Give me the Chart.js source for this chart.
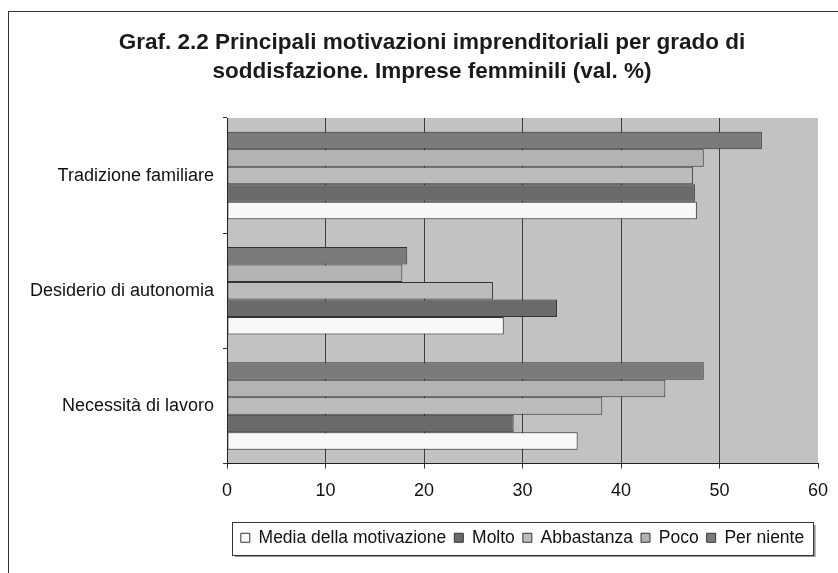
<!DOCTYPE html>
<html>
<head>
<meta charset="utf-8">
<script src="https://cdn.jsdelivr.net/npm/chart.js@4/dist/chart.umd.min.js"></script>
<style>
  html, body { margin: 0; padding: 0; background: #fff; overflow: hidden; }
  #frame { position: absolute; left: 8px; top: 11px; width: 900px; height: 600px;
           border-left: 1px solid #333; border-top: 1px solid #333; }
  #chart { position: absolute; left: 0; top: 0; }
</style>
</head>
<body>
<div id="frame"></div>
<canvas id="chart" width="864" height="573"></canvas>
<script>
// Data
const categories = ['Tradizione familiare', 'Desiderio di autonomia', 'Necessità di lavoro'];
const perNiente  = [54.3, 18.3, 48.4];
const poco       = [48.4, 17.8, 44.5];
const abbastanza = [47.3, 27.0, 38.1];
const molto      = [47.5, 33.5, 29.1];
const media      = [47.7, 28.1, 35.6];
const xTicks = [0, 10, 20, 30, 40, 50, 60];

Chart.defaults.font.family = '"Liberation Sans", Arial, sans-serif';
Chart.defaults.color = '#111';

// grey plot background
const plotBg = {
    id: 'plotBg',
    beforeDraw(chart) {
        const a = chart.chartArea, ctx = chart.ctx;
        ctx.save();
        ctx.fillStyle = '#c2c2c2';
        ctx.fillRect(a.left, a.top, a.right - a.left, a.bottom - a.top);
        ctx.restore();
    }
};

// the title in the original sits a little right of the plot's centre
const titleShift = {
    id: 'titleShift',
    afterLayout(chart) {
        if (chart.titleBlock) chart.titleBlock.left = 46;
    }
};

// box with shadow round the legend
const legendBox = {
    id: 'legendBox',
    afterDraw(chart) {
        const hb = chart.legend.legendHitBoxes;
        if (!hb || !hb.length) return;
        let l = Infinity, r = -Infinity;
        hb.forEach(h => { l = Math.min(l, h.left); r = Math.max(r, h.left + h.width); });
        const t = hb[0].top - 7, b = hb[0].top + hb[0].height + 8;
        l -= 9; r += 9;
        const ctx = chart.ctx;
        ctx.save();
        ctx.strokeStyle = '#999';
        ctx.lineWidth = 2;
        ctx.beginPath();
        ctx.moveTo(l + 3, b + 1.5); ctx.lineTo(r + 1.5, b + 1.5); ctx.lineTo(r + 1.5, t + 3);
        ctx.stroke();
        ctx.strokeStyle = '#333';
        ctx.lineWidth = 1;
        ctx.strokeRect(Math.round(l) + 0.5, Math.round(t) + 0.5, Math.round(r - l), Math.round(b - t));
        ctx.restore();
    }
};

const ds = (label, data, color) => ({
    label: label, data: data, backgroundColor: color,
    borderColor: '#333', borderWidth: 1, borderSkipped: false,
    categoryPercentage: 0.76, barPercentage: 1.0
});

new Chart(document.getElementById('chart'), {
    type: 'bar',
    data: {
        labels: categories,
        datasets: [
            ds('Per niente', perNiente, '#7b7b7b'),
            ds('Poco', poco, '#b3b3b3'),
            ds('Abbastanza', abbastanza, '#bcbcbc'),
            ds('Molto', molto, '#6a6a6a'),
            ds('Media della motivazione', media, '#f8f8f8')
        ]
    },
    plugins: [plotBg, titleShift, legendBox],
    options: {
        indexAxis: 'y',
        responsive: false,
        animation: false,
        layout: { padding: { left: 0, right: 46, top: 0, bottom: 16.5 } },
        plugins: {
            title: {
                display: true,
                text: ['Graf. 2.2 Principali motivazioni imprenditoriali per grado di',
                       'soddisfazione. Imprese femminili (val. %)'],
                font: { size: 22.5, weight: 'bold', lineHeight: 29 / 22.5 },
                color: '#1a1a1a',
                padding: { top: 28.5, bottom: 31.5 }
            },
            legend: {
                position: 'bottom',
                fullSize: false,
                reverse: true,
                labels: { boxWidth: 9, boxHeight: 9, padding: 8, font: { size: 17.5 }, color: '#111' }
            },
            tooltip: { enabled: false }
        },
        scales: {
            x: {
                min: xTicks[0], max: xTicks[xTicks.length - 1],
                afterBuildTicks: s => { s.ticks = xTicks.map(v => ({ value: v })); },
                ticks: { font: { size: 18 }, padding: 12, color: '#111' },
                grid: {
                    color: c => (c.index === xTicks.length - 1 ? 'rgba(0,0,0,0)' : '#3c3c3c'),
                    tickColor: '#333', tickLength: 5, lineWidth: 1
                },
                border: { color: '#222', width: 1 },
                afterFit: s => { s.height = 57.5; }
            },
            y: {
                ticks: { font: { size: 18 }, padding: 9, color: '#111' },
                grid: { drawOnChartArea: false, tickLength: 4, color: '#333' },
                border: { color: '#222', width: 1 },
                afterFit: s => { s.width = 227; }
            }
        }
    }
});
</script>
</body>
</html>
